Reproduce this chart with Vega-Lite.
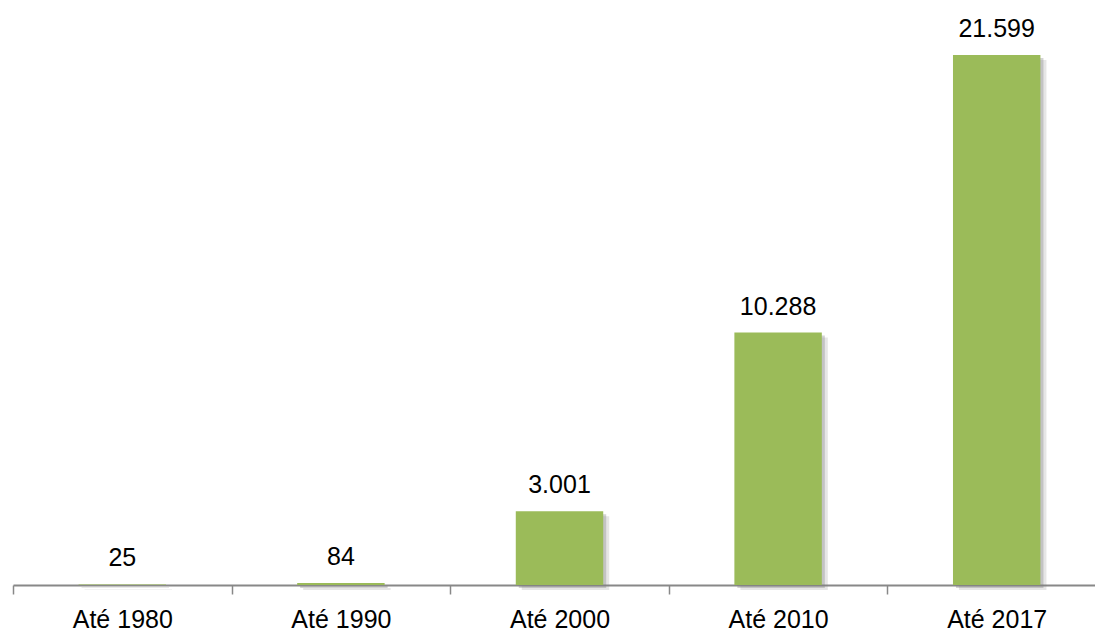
{
  "$schema": "https://vega.github.io/schema/vega-lite/v6.json",
  "autosize": "none",
  "width": 1093,
  "height": 585,
  "padding": {"left": 13, "top": 0, "right": 0, "bottom": 47},
  "background": "white",
  "config": {
    "view": {"stroke": null},
    "locale": {"number": {"decimal": ",", "thousands": ".", "grouping": [3], "currency": ["R$", ""]}},
    "font": "Liberation Sans"
  },
  "data": {
    "values": [
      {"periodo": "Até 1980", "valor": 25},
      {"periodo": "Até 1990", "valor": 84},
      {"periodo": "Até 2000", "valor": 3001},
      {"periodo": "Até 2010", "valor": 10288},
      {"periodo": "Até 2017", "valor": 21599}
    ]
  },
  "encoding": {
    "x": {
      "field": "periodo",
      "type": "nominal",
      "sort": null,
      "scale": {"paddingInner": 0, "paddingOuter": 0},
      "axis": {
        "title": null,
        "labelAngle": 0,
        "tickBand": "extent",
        "domainColor": "#888888",
        "domainWidth": 2,
        "tickColor": "#888888",
        "tickWidth": 1.5,
        "tickSize": 9,
        "labelFontSize": 25,
        "labelColor": "#000000",
        "labelBaseline": "alphabetic",
        "labelPadding": 33,
        "labelFont": "Liberation Sans"
      }
    },
    "y": {
      "field": "valor",
      "type": "quantitative",
      "scale": {"domain": [0, 23840], "nice": false},
      "axis": null
    }
  },
  "layer": [
    {
      "mark": {"type": "bar", "color": "#808080", "opacity": 0.2, "width": {"band": 0.4}, "xOffset": 6, "yOffset": 5}
    },
    {
      "mark": {"type": "bar", "color": "#808080", "opacity": 0.35, "width": {"band": 0.4}, "xOffset": 3, "yOffset": 3}
    },
    {
      "mark": {"type": "bar", "color": "#9BBB59", "width": {"band": 0.4}}
    },
    {
      "mark": {"type": "text", "baseline": "alphabetic", "dy": -18, "fontSize": 25, "color": "#000000", "font": "Liberation Sans"},
      "encoding": {"text": {"field": "valor", "type": "quantitative", "format": ",d"}}
    }
  ]
}
